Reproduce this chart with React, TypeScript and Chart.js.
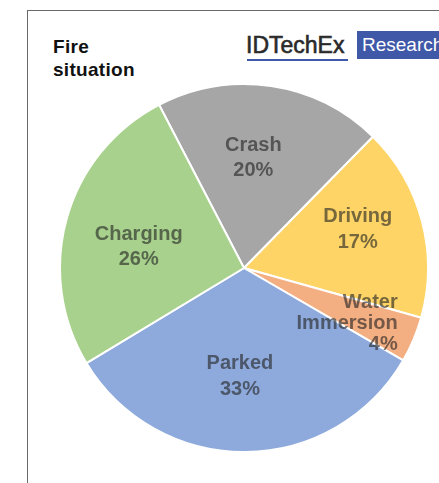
import React, { useEffect, useRef } from "react";
import { Chart, registerables } from "chart.js";

Chart.register(...registerables);

const categories = ["Crash", "Driving", "Water Immersion", "Parked", "Charging"];
const shares = [20, 17, 4, 33, 26];
const labelLines = [
  ["Crash", "20%"],
  ["Driving", "17%"],
  ["Water", "Immersion", "4%"],
  ["Parked", "33%"],
  ["Charging", "26%"],
];
const sliceColors = ["#a6a6a6", "#fdd465", "#f3ae82", "#8eaadc", "#a8d18d"];

// label placement style: radial factor, pixel nudge, alignment, line height
const labelStyle = [
  { r: 0.6, dx: -7, dy: -1, align: "center", lh: 25 },
  { r: 0.6, dx: 7, dy: -10, align: "center", lh: 26 },
  { r: 0.6, dx: 52, dy: 13, align: "right", lh: 21 },
  { r: 0.6, dx: -5, dy: -2, align: "center", lh: 26 },
  { r: 0.6, dx: 1, dy: 9, align: "center", lh: 25 },
];

const labelPlugin = {
  id: "sliceLabels",
  afterDatasetsDraw(chart: any) {
    const ctx = chart.ctx;
    const meta = chart.getDatasetMeta(0);
    ctx.save();
    ctx.font = "bold 20px 'Liberation Sans', Arial, sans-serif";
    ctx.fillStyle = "rgba(35,35,35,0.62)";
    ctx.textBaseline = "middle";
    meta.data.forEach((arc: any, i: number) => {
      const { x, y, startAngle, endAngle, outerRadius } = arc.getProps(
        ["x", "y", "startAngle", "endAngle", "outerRadius"],
        true
      );
      const mid = (startAngle + endAngle) / 2;
      const st = labelStyle[i];
      const cx = x + Math.cos(mid) * outerRadius * st.r + st.dx;
      const cy = y + Math.sin(mid) * outerRadius * st.r + st.dy;
      const lines = labelLines[i];
      ctx.textAlign = st.align;
      const top = cy - ((lines.length - 1) * st.lh) / 2;
      lines.forEach((t, k) => ctx.fillText(t, cx, top + k * st.lh));
    });
    ctx.restore();
  },
};

export default function App() {
  const ref = useRef<HTMLCanvasElement>(null);
  useEffect(() => {
    if (!ref.current) return;
    const chart = new Chart(ref.current, {
      type: "pie",
      data: {
        labels: categories,
        datasets: [
          {
            data: shares,
            backgroundColor: sliceColors,
            borderColor: "#ffffff",
            borderWidth: 2,
          },
        ],
      },
      options: {
        animation: false,
        responsive: false,
        rotation: -27.5,
        layout: { padding: 0 },
        plugins: {
          legend: { display: false },
          tooltip: { enabled: false },
          title: { display: false },
        },
      },
      plugins: [labelPlugin],
    });
    return () => chart.destroy();
  }, []);

  return (
    <div
      style={{
        position: "absolute",
        left: 0,
        top: 0,
        width: 439,
        height: 483,
        overflow: "hidden",
        background: "#fff",
        fontFamily: "'Liberation Sans', Arial, sans-serif",
      }}
    >
      <div
        style={{
          position: "absolute",
          left: 27,
          top: 10,
          width: 500,
          height: 600,
          borderTop: "1px solid #6a6a6a",
          borderLeft: "1px solid #6a6a6a",
        }}
      />
      <div
        style={{
          position: "absolute",
          left: 53,
          top: 35,
          fontSize: 19,
          lineHeight: "23px",
          fontWeight: "bold",
          color: "#111",
          letterSpacing: 0.3,
        }}
      >
        Fire
        <br />
        situation
      </div>
      <div
        style={{
          position: "absolute",
          left: 246,
          top: 34,
          fontSize: 23,
          lineHeight: "23px",
          color: "#2a2a2a",
          WebkitTextStroke: "0.6px #2a2a2a",
          whiteSpace: "nowrap",
        }}
      >
        IDTechEx
      </div>
      <div
        style={{
          position: "absolute",
          left: 247,
          top: 59,
          width: 101,
          height: 2,
          background: "#3d58a8",
        }}
      />
      <div
        style={{
          position: "absolute",
          left: 357,
          top: 31,
          width: 100,
          height: 28,
          background: "#3f58a8",
          color: "#fff",
          fontSize: 19,
          lineHeight: "28px",
          paddingLeft: 5,
          boxSizing: "border-box",
          whiteSpace: "nowrap",
        }}
      >
        Research
      </div>
      <canvas
        ref={ref}
        width={370}
        height={370}
        style={{ position: "absolute", left: 59, top: 83, width: 370, height: 370 }}
      />
    </div>
  );
}
